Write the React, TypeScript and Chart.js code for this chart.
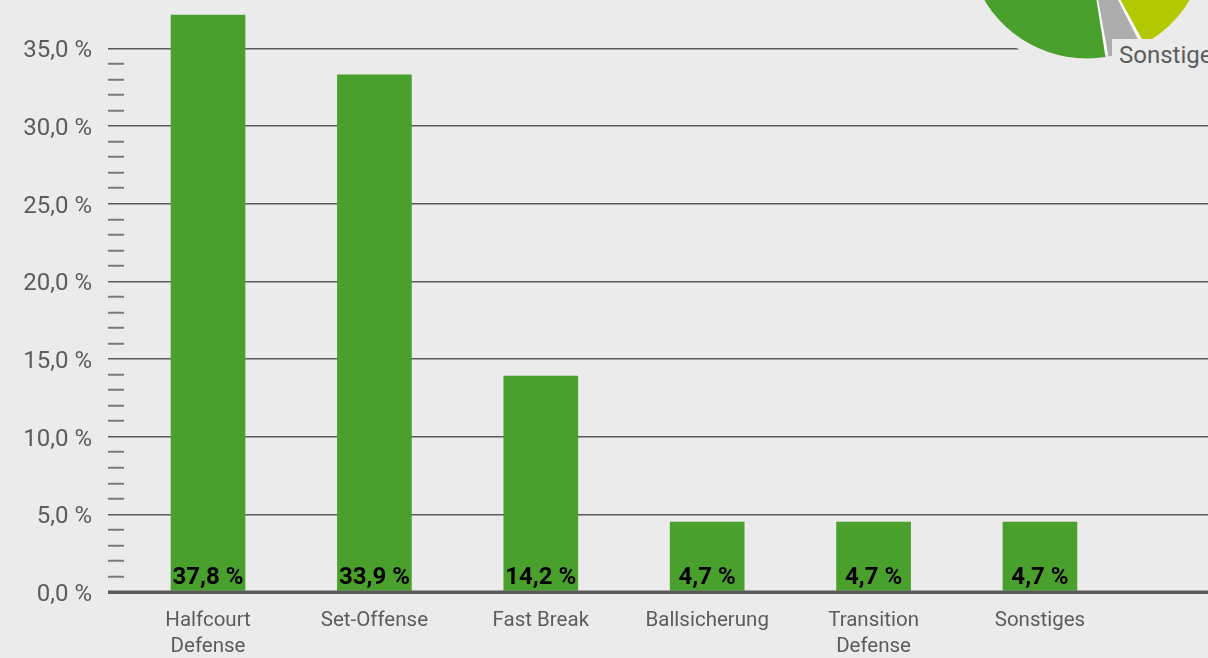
import React, { useEffect, useRef } from "react";
import { Chart, registerables } from "chart.js";

Chart.register(...registerables);

const categories: (string | string[])[] = [
  ["Halfcourt", "Defense"],
  "Set-Offense",
  "Fast Break",
  "Ballsicherung",
  ["Transition", "Defense"],
  "Sonstiges",
];
const barValues = [37.15, 33.3, 13.9, 4.5, 4.5, 4.5];
const valueLabels = ["37,8 %", "33,9 %", "14,2 %", "4,7 %", "4,7 %", "4,7 %"];
const yTickValues = Array.from({ length: 36 }, (_, i) => i);

const pieLabels = ["Offense", "Sonstige", "Defense"];
const pieValues = [52.8, 4.7, 42.5];
const pieColors = ["#b2c900", "#adadad", "#4aa02c"];

const BG = "#ebebeb";
const GREEN = "#4aa02c";
const AXIS = "#5a5a5a";
const TEXT = "#5c5c5c";

export default function App() {
  const barRef = useRef<HTMLCanvasElement | null>(null);
  const pieRef = useRef<HTMLCanvasElement | null>(null);

  useEffect(() => {
    if (!barRef.current || !pieRef.current) return;

    const labelPlugin = {
      id: "barLabels",
      afterDatasetsDraw(chart: any) {
        const ctx = chart.ctx;
        const y0 = chart.scales.y.getPixelForValue(0);
        ctx.save();
        ctx.strokeStyle = AXIS;
        ctx.lineWidth = 3;
        ctx.beginPath();
        ctx.moveTo(108, y0);
        ctx.lineTo(chart.width, y0);
        ctx.stroke();
        const meta = chart.getDatasetMeta(0);
        ctx.fillStyle = "#000";
        ctx.font = "bold 24px Roboto";
        ctx.textAlign = "center";
        ctx.textBaseline = "alphabetic";
        meta.data.forEach((el: any, i: number) => {
          ctx.fillText(valueLabels[i], el.x, y0 - 8);
        });
        ctx.restore();
      },
    };

    const bar = new Chart(barRef.current, {
      type: "bar",
      data: {
        datasets: [
          {
            data: barValues.map((v, i) => ({ x: i, y: v })),
            backgroundColor: GREEN,
            borderWidth: 0,
            barThickness: 74,
          },
        ],
      },
      options: {
        animation: false,
        responsive: false,
        layout: { padding: 0 },
        plugins: {
          legend: { display: false },
          tooltip: { enabled: false },
        },
        scales: {
          x: {
            type: "linear",
            offset: false,
            min: -0.505,
            max: 6.01,
            grid: { display: false, drawTicks: false, offset: false },
            border: { display: false },
            afterBuildTicks(scale: any) {
              scale.ticks = categories.map((_, i) => ({ value: i }));
            },
            afterFit(scale: any) {
              scale.height = 66;
              scale.paddingLeft = 0;
              scale.paddingRight = 0;
            },
            ticks: {
              autoSkip: false,
              maxRotation: 0,
              padding: 16,
              color: TEXT,
              font: { family: "Roboto", size: 20.5, lineHeight: 1.27 },
              callback: (v: any) => categories[Math.round(Number(v))] as any,
            },
          },
          y: {
            type: "linear",
            min: 0,
            max: 38.12,
            border: { display: false },
            afterBuildTicks(scale: any) {
              scale.ticks = yTickValues.map((v) => ({ value: v }));
            },
            afterFit(scale: any) {
              scale.width = 124;
              scale.paddingTop = 0;
              scale.paddingBottom = 0;
            },
            grid: {
              drawTicks: true,
              tickLength: 16,
              color: (c: any) => (c.tick && c.tick.value % 5 === 0 ? AXIS : "rgba(0,0,0,0)"),
              lineWidth: (c: any) => (c.tick && c.tick.value === 0 ? 3 : 1.5),
              tickColor: (c: any) => (c.tick && c.tick.value % 5 === 0 ? AXIS : "#7a7a7a"),
              tickWidth: (c: any) => (c.tick && c.tick.value === 0 ? 3 : c.tick && c.tick.value % 5 === 0 ? 1.5 : 2),
            },
            ticks: {
              autoSkip: false,
              padding: 16,
              labelOffset: 3,
              color: TEXT,
              font: { family: "Roboto", size: 24 },
              callback: (v: any) =>
                Number(v) % 5 === 0 ? Number(v).toFixed(1).replace(".", ",") + " %" : "",
            },
          },
        },
      },
      plugins: [labelPlugin],
    });

    const pie = new Chart(pieRef.current, {
      type: "doughnut",
      data: {
        labels: pieLabels,
        datasets: [
          {
            data: pieValues,
            backgroundColor: pieColors,
            borderWidth: 0,
            spacing: 3,
          },
        ],
      },
      options: {
        animation: false,
        responsive: false,
        rotation: -37.2,
        radius: 118,
        cutout: 62,
        layout: { padding: 0 },
        plugins: {
          legend: { display: false },
          tooltip: { enabled: false },
        },
      },
    });

    return () => {
      bar.destroy();
      pie.destroy();
    };
  }, []);

  const cx = 1087;
  const cy = -61;

  return (
    <div
      style={{
        position: "fixed",
        left: 0,
        top: 0,
        width: 1208,
        height: 658,
        background: BG,
        overflow: "hidden",
      }}
    >
      <canvas ref={barRef} width={1208} height={658} style={{ position: "absolute", left: 0, top: 0 }} />
      <div
        style={{
          position: "absolute",
          left: cx - 130,
          top: cy - 130,
          width: 260,
          height: 260,
          borderRadius: "50%",
          background: BG,
        }}
      />
      <div
        style={{
          position: "absolute",
          left: cx - 117,
          top: cy - 117,
          width: 234,
          height: 234,
          borderRadius: "50%",
          background: "#ffffff",
        }}
      />
      <canvas
        ref={pieRef}
        width={260}
        height={260}
        style={{ position: "absolute", left: cx - 130, top: cy - 130 }}
      />
      <div
        style={{
          position: "absolute",
          left: 1112,
          top: 39,
          padding: "0 0 0 7px",
          height: 32,
          width: 120,
          background: BG,
          color: TEXT,
          fontFamily: "Roboto",
          fontSize: 24,
          lineHeight: "32px",
          whiteSpace: "nowrap",
        }}
      >
        Sonstiges
      </div>
    </div>
  );
}
